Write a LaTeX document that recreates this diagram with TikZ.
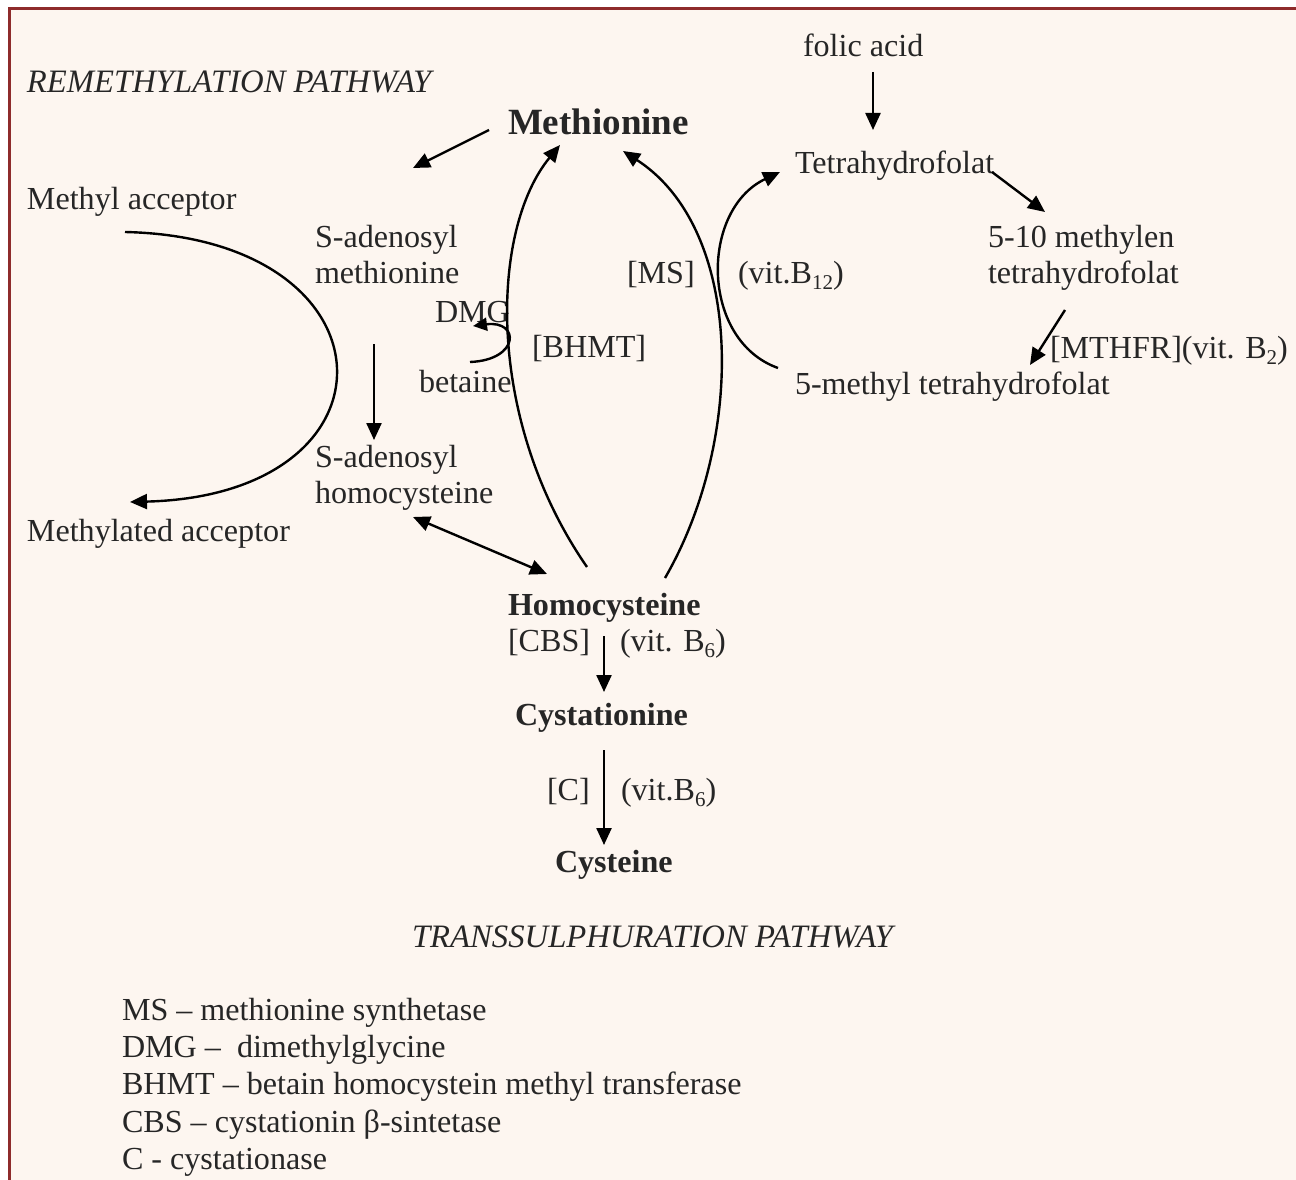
\documentclass[tikz,border=0pt]{standalone}
\usepackage{fontspec}
\setmainfont{Liberation Serif}
\usetikzlibrary{arrows.meta}
\definecolor{bgc}{HTML}{FDF6F0}
\definecolor{framec}{HTML}{8E2B2B}
\definecolor{ink}{HTML}{262626}
\newcommand\sbs[1]{\raisebox{-0.2em}{\fontsize{21}{21}\selectfont #1}}
\tikzset{
  lbl/.style={anchor=base west, inner sep=0pt, outer sep=0pt, text=ink, font=\fontsize{32.1}{36}\selectfont},
  tbold/.style={lbl, font=\fontsize{32.1}{36}\selectfont\bfseries},
  tbig/.style={lbl, font=\fontsize{37}{42}\selectfont\bfseries},
  tital/.style={lbl, font=\fontsize{32.7}{36}\selectfont\itshape},
  conn/.style={draw=black, line width=2.4pt, -{Triangle[length=17pt,width=15pt]}},
  dconn/.style={draw=black, line width=2.4pt, {Triangle[length=17pt,width=15pt]}-{Triangle[length=17pt,width=15pt]}},
}
\begin{document}
\begin{tikzpicture}[x=1pt,y=-1pt]
\useasboundingbox (0,0) rectangle (1296,1180);
\fill[white] (0,0) rectangle (1296,1180);
\fill[bgc] (9,9) rectangle (1296,1180);
\draw[framec, line width=3pt] (9,1180) -- (9,9) -- (1296,9);

% labels
\node[tital] (remeth) at (27,93) {REMETHYLATION PATHWAY};
\node[lbl] (folic) at (803,57) {folic acid};
\node[tbig] (meth) at (508,135) {Methionine};
\node[lbl] (thf) at (795,173) {Tetrahydrofolat};
\node[lbl] (macc) at (27,209) {Methyl acceptor};
\node[lbl] (sam) at (315,247) {S-adenosyl};
\node[lbl] (samb) at (315,283) {methionine};
\node[lbl] (ms) at (627,283) {[MS]};
\node[lbl] (vbtw) at (738,283) {(vit.B\sbs{12})};
\node[lbl] (mth) at (988,247) {5-10 methylen};
\node[lbl] (mthb) at (988,283) {tetrahydrofolat};
\node[lbl] (dmg) at (435,322) {DMG};
\node[lbl] (bhmt) at (532,357) {[BHMT]};
\node[lbl] (bet) at (419,392) {betaine};
\node[lbl] (mthfr) at (1050,358) {[MTHFR](vit. B\sbs{2})};
\node[lbl] (mthf) at (795,394) {5-methyl tetrahydrofolat};
\node[lbl] (sah) at (315,467) {S-adenosyl};
\node[lbl] (sahb) at (315,503) {homocysteine};
\node[lbl] (mact) at (27,541) {Methylated acceptor};
\node[tbold] (hcy) at (508,615) {Homocysteine};
\node[lbl] (cbs) at (508,651) {[CBS]};
\node[lbl] (vbsa) at (620,651) {(vit. B\sbs{6})};
\node[tbold] (cysta) at (515,725) {Cystationine};
\node[lbl] (cc) at (547,800) {[C]};
\node[lbl] (vbsb) at (621,800) {(vit.B\sbs{6})};
\node[tbold] (cys) at (555,872) {Cysteine};
\node[tital] (trans) at (412,947) {TRANSSULPHURATION PATHWAY};

\node[lbl] (lg1) at (122,1020) {MS -- methionine synthetase};
\node[lbl] (lg2) at (122,1057) {DMG --\ \ dimethylglycine};
\node[lbl] (lg3) at (122,1094) {BHMT -- betain homocystein methyl transferase};
\node[lbl] (lg4) at (122,1132) {CBS -- cystationin β-sintetase};
\node[lbl] (lg5) at (122,1169) {C - cystationase};

% connector end points
\coordinate (folicS) at (873,72);   \coordinate (thfN) at (873,130);
\coordinate (methW) at (489,130);   \coordinate (samN) at (413,168);
\coordinate (hcyL) at (587,567);    \coordinate (methL) at (560,145);
\coordinate (hcyR) at (665,578);    \coordinate (methR) at (623,151);
\coordinate (thfE) at (992,172);    \coordinate (mthN) at (1045,212);
\coordinate (mthS) at (1065,310);   \coordinate (mthfN) at (1030,365);
\coordinate (mthfW) at (778,368);   \coordinate (thfW) at (780,172);
\coordinate (maccS) at (125,232);   \coordinate (mactN) at (130,502);
\coordinate (samS) at (374,344);    \coordinate (sahN) at (374,440);
\coordinate (sahS) at (413,517);    \coordinate (hcyN) at (547,574);
\coordinate (betE) at (470,362);    \coordinate (dmgE) at (473,326);
\coordinate (hcyS) at (604,636);    \coordinate (cystaN) at (604,692);
\coordinate (cystaS) at (604,750);  \coordinate (cysN) at (604,845);

% connectors
\draw[conn] (folicS) -- (thfN);
\draw[conn] (methW) -- (samN);
\draw[conn] (hcyL) .. controls (485,420) and (490,230) .. (methL);
\draw[conn] (hcyR) .. controls (745,440) and (745,230) .. (methR);
\draw[conn] (thfE) -- (mthN);
\draw[conn] (mthS) -- (mthfN);
\draw[conn] (mthfW) .. controls (700,340) and (700,210) .. (thfW);
\draw[conn] (maccS) .. controls (400,238) and (408,495) .. (mactN);
\draw[conn] (samS) -- (sahN);
\draw[dconn] (sahS) -- (hcyN);
\draw[conn, -{Triangle[length=14pt,width=13pt]}] (betE) .. controls (520,360) and (520,320) .. (dmgE);
\draw[conn] (hcyS) -- (cystaN);
\draw[conn] (cystaS) -- (cysN);
\end{tikzpicture}
\end{document}
